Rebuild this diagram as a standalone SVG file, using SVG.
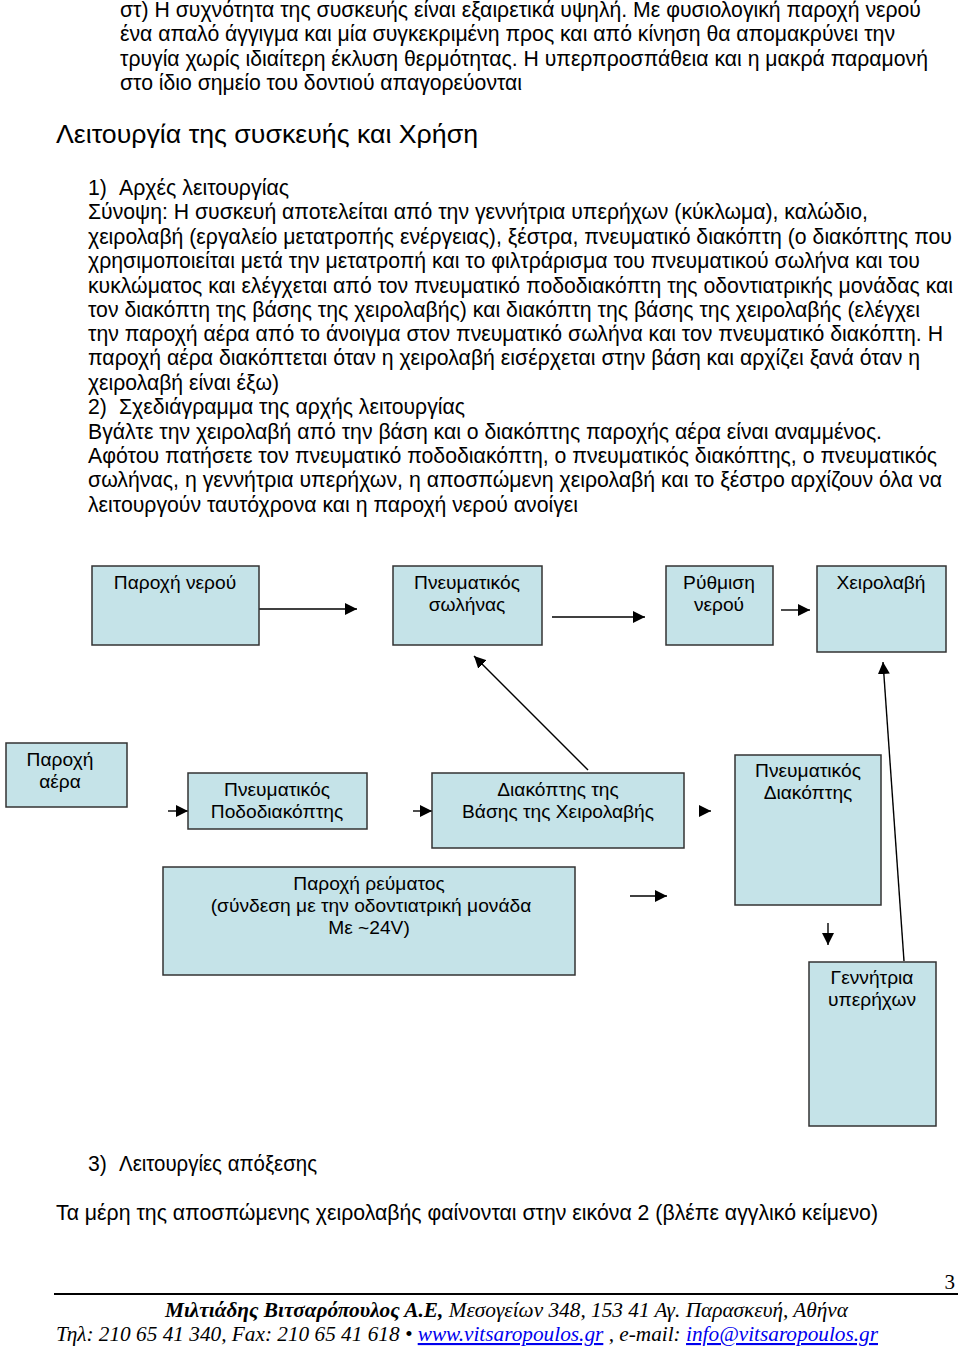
<svg xmlns="http://www.w3.org/2000/svg" width="960" height="1353" viewBox="0 0 960 1353">
<style>
.body{font-family:"Liberation Sans",Arial,sans-serif;font-size:21.2px;fill:#000}
.head{font-family:"Liberation Sans",Arial,sans-serif;font-size:26.5px;fill:#000}
.box{fill:#c5e3e8;stroke:#333;stroke-width:1.5}
.lbl{font-family:"Liberation Sans",Arial,sans-serif;font-size:19.2px;fill:#000;text-anchor:middle}
.con{stroke:#000;stroke-width:1.4;fill:none;marker-end:url(#ah)}
.foot{font-family:"Liberation Serif","Times New Roman",serif;font-size:21.2px;font-style:italic;fill:#000}
.lnk{fill:#0000ee;text-decoration:underline}
</style>
<defs>
<marker id="ah" markerUnits="userSpaceOnUse" markerWidth="13" markerHeight="13" refX="12" refY="6" orient="auto"><path d="M0,0 L12,6 L0,12 z" fill="#000"/></marker>
</defs>
<rect width="960" height="1353" fill="#fff"/>
<g id="text-top" lengthAdjust="spacingAndGlyphs">
<text class="body" x="120" y="17" textLength="801" lengthAdjust="spacingAndGlyphs">στ) Η συχνότητα της συσκευής είναι εξαιρετικά υψηλή. Με φυσιολογική παροχή νερού</text>
<text class="body" x="120" y="41" textLength="775" lengthAdjust="spacingAndGlyphs">ένα απαλό άγγιγμα και μία συγκεκριμένη προς και από κίνηση θα απομακρύνει την</text>
<text class="body" x="120" y="66" textLength="808" lengthAdjust="spacingAndGlyphs">τρυγία χωρίς ιδιαίτερη έκλυση θερμότητας. Η υπερπροσπάθεια και η μακρά παραμονή</text>
<text class="body" x="120" y="90" textLength="402" lengthAdjust="spacingAndGlyphs">στο ίδιο σημείο του δοντιού απαγορεύονται</text>
<text class="head" x="56" y="143" textLength="422" lengthAdjust="spacingAndGlyphs">Λειτουργία της συσκευής και Χρήση</text>
<text class="body" x="88" y="195">1)</text><text class="body" x="119" y="195" textLength="170" lengthAdjust="spacingAndGlyphs">Αρχές λειτουργίας</text>
<text class="body" x="88" y="219" textLength="780" lengthAdjust="spacingAndGlyphs">Σύνοψη: Η συσκευή αποτελείται από την γεννήτρια υπερήχων (κύκλωμα), καλώδιο,</text>
<text class="body" x="88" y="244" textLength="864" lengthAdjust="spacingAndGlyphs">χειρολαβή (εργαλείο μετατροπής ενέργειας), ξέστρα, πνευματικό διακόπτη (ο διακόπτης που</text>
<text class="body" x="88" y="268" textLength="832" lengthAdjust="spacingAndGlyphs">χρησιμοποιείται μετά την μετατροπή και το φιλτράρισμα του πνευματικού σωλήνα και του</text>
<text class="body" x="88" y="293" textLength="865" lengthAdjust="spacingAndGlyphs">κυκλώματος και ελέγχεται από τον πνευματικό ποδοδιακόπτη της οδοντιατρικής μονάδας και</text>
<text class="body" x="88" y="317" textLength="832" lengthAdjust="spacingAndGlyphs">τον διακόπτη της βάσης της χειρολαβής) και διακόπτη της βάσης της χειρολαβής (ελέγχει</text>
<text class="body" x="88" y="341" textLength="855" lengthAdjust="spacingAndGlyphs">την παροχή αέρα από το άνοιγμα στον πνευματικό σωλήνα και τον πνευματικό διακόπτη. Η</text>
<text class="body" x="88" y="365" textLength="832" lengthAdjust="spacingAndGlyphs">παροχή αέρα διακόπτεται όταν η χειρολαβή εισέρχεται στην βάση και αρχίζει ξανά όταν η</text>
<text class="body" x="88" y="390" textLength="191" lengthAdjust="spacingAndGlyphs">χειρολαβή είναι έξω)</text>
<text class="body" x="88" y="414">2)</text><text class="body" x="119" y="414" textLength="346" lengthAdjust="spacingAndGlyphs">Σχεδιάγραμμα της αρχής λειτουργίας</text>
<text class="body" x="88" y="439" textLength="794" lengthAdjust="spacingAndGlyphs">Βγάλτε την χειρολαβή από την βάση και ο διακόπτης παροχής αέρα είναι αναμμένος.</text>
<text class="body" x="88" y="463" textLength="849" lengthAdjust="spacingAndGlyphs">Αφότου πατήσετε τον πνευματικό ποδοδιακόπτη, ο πνευματικός διακόπτης, ο πνευματικός</text>
<text class="body" x="88" y="487" textLength="854" lengthAdjust="spacingAndGlyphs">σωλήνας, η γεννήτρια υπερήχων, η αποσπώμενη χειρολαβή και το ξέστρο αρχίζουν όλα να</text>
<text class="body" x="88" y="512" textLength="490" lengthAdjust="spacingAndGlyphs">λειτουργούν ταυτόχρονα και η παροχή νερού ανοίγει</text>
</g>
<g id="connectors">
<line class="con" x1="249" y1="609" x2="357" y2="609"/>
<line class="con" x1="552" y1="617" x2="645" y2="617"/>
<line class="con" x1="781" y1="610" x2="810" y2="610"/>
<line class="con" x1="904" y1="961" x2="883" y2="662"/>
<line class="con" x1="588" y1="770" x2="474" y2="656"/>
<line class="con" x1="168" y1="811" x2="188" y2="811"/>
<line class="con" x1="413" y1="811" x2="432" y2="811"/>
<line class="con" x1="699" y1="811" x2="711" y2="811"/>
<line class="con" x1="630" y1="896" x2="667" y2="896"/>
<line class="con" x1="828" y1="923" x2="828" y2="945"/>
</g>
<g id="n-water"><rect class="box" x="92" y="566" width="167" height="79"/><text class="lbl" x="175" y="589">Παροχή νερού</text></g>
<g id="n-tube"><rect class="box" x="393" y="566" width="149" height="79"/><text class="lbl" x="467" y="589">Πνευματικός</text><text class="lbl" x="467" y="611">σωλήνας</text></g>
<g id="n-reg"><rect class="box" x="666" y="566" width="107" height="79"/><text class="lbl" x="719" y="589">Ρύθμιση</text><text class="lbl" x="719" y="611">νερού</text></g>
<g id="n-handle"><rect class="box" x="817" y="566" width="129" height="86"/><text class="lbl" x="881" y="589">Χειρολαβή</text></g>
<g id="n-air"><rect class="box" x="6" y="743" width="121" height="64"/><text class="lbl" x="60" y="766">Παροχή</text><text class="lbl" x="60" y="788">αέρα</text></g>
<g id="n-foot"><rect class="box" x="188" y="773" width="179" height="56"/><text class="lbl" x="277" y="796">Πνευματικός</text><text class="lbl" x="277" y="818">Ποδοδιακόπτης</text></g>
<g id="n-base"><rect class="box" x="432" y="773" width="252" height="75"/><text class="lbl" x="558" y="796">Διακόπτης της</text><text class="lbl" x="558" y="818">Βάσης της Χειρολαβής</text></g>
<g id="n-switch"><rect class="box" x="735" y="755" width="146" height="150"/><text class="lbl" x="808" y="777">Πνευματικός</text><text class="lbl" x="808" y="799">Διακόπτης</text></g>
<g id="n-power"><rect class="box" x="163" y="867" width="412" height="108"/><text class="lbl" x="369" y="890">Παροχή ρεύματος</text><text class="lbl" x="371" y="912">(σύνδεση με την οδοντιατρική μονάδα</text><text class="lbl" x="369" y="934">Με ~24V)</text></g>
<g id="n-gen"><rect class="box" x="809" y="962" width="127" height="164"/><text class="lbl" x="872" y="984">Γεννήτρια</text><text class="lbl" x="872" y="1006">υπερήχων</text></g>
<g id="text-bottom">
<text class="body" x="88" y="1171">3)</text><text class="body" x="119" y="1171" textLength="198" lengthAdjust="spacingAndGlyphs">Λειτουργίες απόξεσης</text>
<text class="body" x="56" y="1220" textLength="822" lengthAdjust="spacingAndGlyphs">Τα μέρη της αποσπώμενης χειρολαβής φαίνονται στην εικόνα 2 (βλέπε αγγλικό κείμενο)</text>
</g>
<g id="footer">
<text x="955" y="1289" text-anchor="end" style="font-family:'Liberation Serif','Times New Roman',serif;font-size:21px">3</text>
<line x1="54" y1="1294" x2="958" y2="1294" stroke="#000" stroke-width="2"/>
<text class="foot" x="165" y="1317" textLength="683" lengthAdjust="spacingAndGlyphs"><tspan font-weight="bold">Μιλτιάδης Βιτσαρόπουλος Α.Ε,</tspan> Μεσογείων 348, 153 41 Αγ. Παρασκευή, Αθήνα</text>
<text class="foot" x="56" y="1341" textLength="822" lengthAdjust="spacingAndGlyphs">Τηλ: 210 65 41 340, Fax: 210 65 41 618 • <tspan class="lnk">www.vitsaropoulos.gr</tspan> , e-mail: <tspan class="lnk">info@vitsaropoulos.gr</tspan></text>
</g>
</svg>
